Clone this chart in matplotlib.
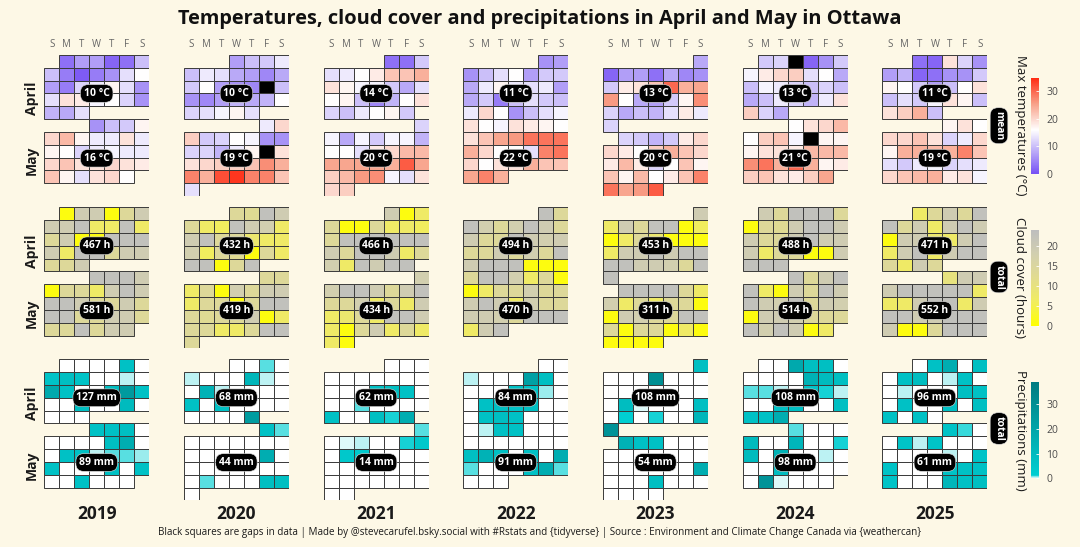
import datetime as dt
import numpy as np
import matplotlib
matplotlib.use("Agg")
import matplotlib.pyplot as plt
from matplotlib.colors import LinearSegmentedColormap, Normalize
from matplotlib.cm import ScalarMappable

plt.rcParams["font.family"] = ["Open Sans", "DejaVu Sans"]

# ---------------------------------------------------------------- data
YEARS = [2019, 2020, 2021, 2022, 2023, 2024, 2025]
DAYS = ["S", "M", "T", "W", "T", "F", "S"]
N = None  # gap in data

TMAX_APRIL = {
    2019: [3, 7, 7, 2, 3, 10, 10, 4, 1, 4, 6, 13, 16, 7, 4, 12, 14, 17, 13, 6, 13, 19, 18, 15, 16, 12, 6, 9, 8, 13],
    2020: [7, 10, 11, 14, 10, 14, 13, 8, 7, 5, 8, 11, 16, 7, 6, 5, N, 10, 6, 5, 7, 9, 8, 9, 16, 12, 13, 15, 17, 13],
    2021: [3, 3, 11, 13, 14, 16, 18, 22, 22, 24, 19, 17, 15, 15, 11, 8, 13, 16, 17, 10, 5, 9, 16, 19, 12, 10, 14, 16, 17, 11],
    2022: [6, 7, 6, 10, 13, 16, 7, 11, 11, 8, 14, 17, 14, 13, 14, 7, 8, 11, 4, 10, 13, 11, 10, 14, 20, 16, 6, 10, 13, 15],
    2023: [8, 2, 7, 7, 3, 8, 5, 6, 11, 18, 19, 22, 30, 24, 25, 26, 16, 8, 7, 11, 17, 27, 12, 8, 10, 9, 13, 18, 14, 12],
    2024: [11, 12, N, 2, 6, 11, 15, 18, 20, 21, 13, 16, 8, 10, 15, 14, 12, 10, 12, 10, 8, 10, 14, 12, 9, 14, 19, 21, 12, 8],
    2025: [3, 2, 19, 12, 6, 7, 9, 2, 3, 6, 6, 11, 17, 16, 11, 7, 10, 16, 19, 10, 13, 11, 15, 19, 17, 10, 19, 21, 24, 10],
}
TMAX_MAY = {
    2019: [6, 10, 11, 17, 20, 23, 17, 14, 14, 19, 14, 17, 16, 12, 14, 15, 14, 14, 20, 22, 19, 19, 20, 19, 18, 22, 17, 13, 19, 20, 16],
    2020: [14, 20, 21, 11, 12, 16, 15, 6, 6, 12, 12, 9, 14, 17, N, 19, 19, 20, 21, 21, 22, 27, 24, 28, 24, 32, 34, 28, 28, 22, 13],
    2021: [12, 15, 8, 15, 11, 15, 15, 9, 16, 16, 13, 18, 20, 23, 23, 25, 25, 25, 25, 24, 31, 25, 21, 23, 26, 27, 15, 13, 19, 20, 21],
    2022: [19, 16, 15, 19, 18, 17, 16, 19, 22, 25, 26, 29, 29, 29, 24, 20, 16, 16, 13, 28, 29, 20, 16, 19, 19, 24, 22, 22, 25, 28, 24],
    2023: [12, 11, 9, 11, 18, 20, 20, 18, 16, 21, 24, 22, 20, 18, 23, 18, 12, 16, 22, 17, 22, 17, 23, 16, 18, 22, 28, 29, 25, 26, 31],
    2024: [16, 19, 20, 23, 16, 21, 22, 15, N, 17, 17, 17, 19, 19, 18, 23, 23, 23, 27, 29, 24, 30, 24, 17, 18, 21, 22, 19, 18, 21, 25],
    2025: [17, 19, 16, 20, 20, 22, 19, 12, 14, 20, 17, 24, 24, 23, 24, 28, 22, 13, 11, 14, 15, 12, 13, 14, 20, 22, 23, 24, 18, 19, 15],
}

CLOUD_APRIL = {
    2019: [1, 19, 19, 1, 14, 19, 19, 19, 23, 7, 7, 23, 7, 14, 19, 1, 1, 23, 23, 23, 19, 7, 23, 23, 14, 19, 19, 14, 14, 19],
    2020: [14, 13, 23, 19, 14, 7, 6, 23, 19, 18, 7, 19, 23, 14, 14, 8, 7, 7, 18, 6, 14, 13, 1, 14, 7, 23, 23, 1, 14, 23],
    2021: [19, 1, 7, 14, 1, 1, 14, 7, 7, 6, 14, 23, 23, 23, 23, 23, 23, 19, 14, 23, 23, 19, 7, 14, 18, 7, 23, 19, 23, 23],
    2022: [23, 14, 23, 18, 14, 18, 23, 19, 14, 19, 14, 14, 23, 19, 18, 19, 14, 14, 19, 14, 18, 14, 23, 19, 23, 23, 23, 1, 1, 1],
    2023: [19, 7, 19, 14, 23, 23, 1, 6, 1, 7, 14, 8, 1, 1, 1, 7, 19, 19, 23, 19, 23, 23, 23, 23, 19, 19, 18, 14, 23, 23],
    2024: [19, 14, 23, 23, 23, 14, 1, 14, 13, 19, 23, 23, 19, 19, 14, 14, 19, 23, 19, 19, 19, 7, 14, 14, 1, 1, 19, 23, 23, 23],
    2025: [7, 14, 19, 14, 23, 23, 14, 19, 7, 19, 23, 19, 1, 19, 19, 8, 7, 19, 23, 7, 19, 23, 7, 19, 23, 23, 14, 7, 19, 14],
}
CLOUD_MAY = {
    2019: [23, 23, 23, 19, 1, 14, 14, 7, 19, 23, 19, 23, 23, 19, 14, 14, 19, 14, 23, 23, 14, 14, 19, 19, 14, 14, 14, 23, 14, 19, 19],
    2020: [14, 14, 7, 14, 1, 18, 14, 19, 19, 7, 14, 14, 1, 14, 23, 23, 14, 13, 14, 14, 19, 1, 7, 14, 14, 7, 7, 14, 23, 23, 14],
    2021: [18, 18, 23, 23, 19, 14, 19, 23, 14, 14, 18, 7, 14, 7, 19, 7, 8, 14, 7, 23, 23, 19, 7, 1, 14, 19, 7, 14, 7, 7, 1],
    2022: [14, 23, 23, 18, 7, 14, 1, 1, 7, 14, 14, 18, 14, 14, 19, 23, 19, 7, 18, 14, 14, 19, 19, 18, 14, 23, 23, 23, 7, 19, 23],
    2023: [23, 23, 23, 23, 14, 7, 18, 7, 14, 7, 14, 14, 1, 1, 19, 18, 14, 14, 23, 23, 14, 1, 14, 14, 1, 7, 1, 1, 1, 1, 1],
    2024: [23, 14, 19, 23, 23, 7, 1, 19, 14, 23, 19, 23, 19, 18, 23, 14, 19, 18, 1, 19, 19, 18, 14, 14, 14, 23, 18, 23, 19, 1, 7],
    2025: [10, 19, 19, 19, 23, 23, 23, 23, 23, 7, 7, 7, 19, 23, 23, 7, 19, 23, 23, 19, 19, 23, 23, 23, 19, 1, 1, 14, 23, 23, 23],
}

PRECIP_APRIL = {
    2019: [0, 0, 0, 0, 7, 0, 6, 8, 6, 0, 0, 0.4, 0, 18, 7, 0, 0, 9, 25, 7, 0, 0, 8, 0, 0, 10, 0, 0, 0, 0],
    2020: [0, 0, 0.8, 0, 0.4, 0, 0, 0, 12, 0.4, 0, 0, 14, 0.4, 0, 0, 0, 0, 7, 0, 7, 0.15, 0, 0, 0, 0, 0, 0, 0, 24],
    2021: [0, 0, 0, 0, 0, 0, 0, 0, 0, 0, 0, 0.15, 0, 7, 8, 7, 0, 0, 0, 0.8, 0.15, 0.15, 0, 0, 7, 0, 0, 8, 1.2, 16],
    2022: [0, 0, 0.4, 0, 0, 0, 22, 8, 0, 0, 0.15, 0, 7, 6, 0.6, 0, 0, 7, 8, 6, 8, 0, 0, 0, 7, 8, 7, 0, 0, 0],
    2023: [8, 0, 0, 0, 30, 0, 0, 0, 0, 0, 0, 0, 0, 0, 0, 0, 9, 0.3, 0, 0, 0, 8, 0.15, 1.5, 0, 1.2, 0, 0, 12, 28],
    2024: [0, 0, 18, 8, 8, 0, 0, 0, 0, 0.15, 14, 10, 8, 0.8, 0.8, 0.4, 0, 6, 1.2, 0.4, 0.15, 0, 7, 7, 0, 0, 8, 7, 7, 16],
    2025: [0, 7, 16, 0, 8, 0, 7, 9, 0, 0.4, 7, 0, 0, 0.4, 0, 0, 0, 8, 7, 0, 7, 0, 0, 7, 0, 8, 7, 0, 7, 0],
}
PRECIP_MAY = {
    2019: [7, 7, 8, 0, 0, 0, 0, 0, 8, 16, 0, 0, 7, 7, 0.4, 0.8, 0.8, 0.5, 7, 0, 0, 0, 7, 0, 7, 0, 0, 7, 0, 0, 0],
    2020: [7, 0.8, 0.15, 0, 0, 0, 0, 0, 0, 0, 0, 0, 0, 0, 16, 0, 0, 0, 0, 0, 0, 0, 0, 0, 0.8, 0, 0, 0.15, 8, 8, 0],
    2021: [0.8, 0, 0.3, 0.4, 0.15, 0, 1.2, 4, 0, 4, 3, 0, 0, 0, 0, 0, 0, 0, 0, 0, 0, 0, 0.15, 0, 0, 0, 0, 0, 0, 0, 0],
    2022: [0, 0.4, 7, 7, 0, 0, 0, 0, 0, 0, 0, 0, 0, 0, 8, 14, 7, 0, 7, 0, 16, 0.8, 0, 0, 0, 7, 16, 0.8, 0, 0, 0],
    2023: [14, 7, 7, 0.15, 0, 0, 0, 0, 0, 0, 0, 0, 0, 0, 0, 0.15, 0, 0, 0, 16, 0, 0, 0, 8, 0, 0, 0, 0, 0, 0, 0],
    2024: [0.8, 0, 0, 0, 10, 0, 0, 12, 0, 0, 1.2, 10, 0.15, 14, 0, 0, 0.4, 0, 0, 0, 9, 0, 0.15, 0, 0.15, 0, 28, 0.3, 0, 0, 0],
    2025: [6, 1, 0, 0, 6, 0.4, 6, 0.15, 0, 0, 0, 0, 0, 0, 0.4, 0, 6, 6, 0, 0, 0.15, 6, 7, 7, 6, 0, 0, 0, 12, 7, 8],
}

TMAX_MEAN_APRIL = [10, 10, 14, 11, 13, 13, 11]
TMAX_MEAN_MAY = [16, 19, 20, 22, 20, 21, 19]
CLOUD_TOTAL_APRIL = [467, 432, 466, 494, 453, 488, 471]
CLOUD_TOTAL_MAY = [581, 419, 434, 470, 311, 514, 552]
PRECIP_TOTAL_APRIL = [127, 68, 62, 84, 108, 108, 96]
PRECIP_TOTAL_MAY = [89, 44, 14, 91, 54, 98, 61]

TITLE = "Temperatures, cloud cover and precipitations in April and May in Ottawa"
CAPTION = ("Black squares are gaps in data | Made by @stevecarufel.bsky.social with #Rstats and "
           "{tidyverse} | Source : Environment and Climate Change Canada via {weathercan}")

# ---------------------------------------------------------------- style
BG = "#FDF8E6"
W, H = 1080, 547
fig = plt.figure(figsize=(W / 100, H / 100), dpi=100, facecolor=BG)


def fx(px):
    return px / W


def fy(py):
    return 1 - py / H


temp_cmap = LinearSegmentedColormap.from_list(
    "t", [(0, "#7650F5"), (8 / 35, "#B9A9F7"), (16 / 35, "#FFFFFF"), (25.5 / 35, "#F8A189"), (1, "#FF2A12")])
cloud_cmap = LinearSegmentedColormap.from_list(
    "c", [(0, "#FFFF00"), (0.25, "#F1ED5E"), (0.5, "#E2DC8E"), (0.75, "#D2CFAF"), (1, "#BEBEBE")])
prec_cmap = LinearSegmentedColormap.from_list(
    "p", [(0, "#FFFFFF"), (0.03, "#00CED1"), (1, "#007B80")])

VARS = [
    (TMAX_APRIL, TMAX_MAY, temp_cmap, Normalize(0, 35), TMAX_MEAN_APRIL, TMAX_MEAN_MAY, "{} °C"),
    (CLOUD_APRIL, CLOUD_MAY, cloud_cmap, Normalize(0, 24), CLOUD_TOTAL_APRIL, CLOUD_TOTAL_MAY, "{} h"),
    (PRECIP_APRIL, PRECIP_MAY, prec_cmap, Normalize(0, 39), PRECIP_TOTAL_APRIL, PRECIP_TOTAL_MAY, "{} mm"),
]

LEFT0, STEP, PW = 44.2, 139.7, 105.0
TOPS = [55.0, 207.3, 359.3]
ROWH = 12.82
PH = 11 * ROWH


def sunday_col(d):
    return (d.weekday() + 1) % 7


def layout(year, napr, nmay):
    off_a = sunday_col(dt.date(year, 4, 1))
    off_m = sunday_col(dt.date(year, 5, 1))
    cols, rows = [], []
    for d in range(napr):
        cols.append((off_a + d) % 7)
        rows.append((off_a + d) // 7)
    nrow_a = (off_a + napr - 1) // 7 + 1
    for d in range(nmay):
        cols.append((off_m + d) % 7)
        rows.append(nrow_a + (off_m + d) // 7)
    return np.array(cols), np.array(rows)


label_box = dict(boxstyle="round,pad=0.32,rounding_size=0.75", fc="black", ec="#DDDDDD", lw=0.4)

for vi, (apr, may, cmap, norm, s_apr, s_may, fmt) in enumerate(VARS):
    for yi, year in enumerate(YEARS):
        left = LEFT0 + STEP * yi
        top = TOPS[vi]
        ax = fig.add_axes([fx(left), fy(top + PH), PW / W, PH / H])
        ax.set_xlim(-0.5, 6.5)
        ax.set_ylim(10.5, -0.5)
        ax.axis("off")
        vals = np.array([np.nan if v is None else v for v in apr[year] + may[year]], dtype=float)
        cols, rows = layout(year, len(apr[year]), len(may[year]))
        colors = [(0, 0, 0, 1) if np.isnan(v) else cmap(norm(v)) for v in vals]
        ax.bar(cols, 1.0, bottom=rows - 0.5, width=1.0, color=colors,
               edgecolor="#3A3A3A", linewidth=0.7, align="center")
        ax.text(3, 2.5, fmt.format(s_apr[yi]), ha="center", va="center", color="white",
                fontsize=7.5, fontweight="bold", bbox=label_box, zorder=5)
        ax.text(3, 7.55, fmt.format(s_may[yi]), ha="center", va="center", color="white",
                fontsize=7.5, fontweight="bold", bbox=label_box, zorder=5)
        if vi == 0:
            for c, dname in enumerate(DAYS):
                ax.text(c, -1.3, dname, ha="center", va="center", fontsize=7,
                        color="#666666", clip_on=False)
        if vi == 2:
            ax.text(3, 11.6, str(year), ha="center", va="center", fontsize=12.5,
                    fontweight="bold", color="#1A1A1A", clip_on=False)
        if yi == 0:
            ax.text(-1.3, 2.9, "April", rotation=90, ha="center", va="center",
                    fontsize=10, fontweight="bold", color="#1A1A1A", clip_on=False)
            ax.text(-1.3, 7.75, "May", rotation=90, ha="center", va="center",
                    fontsize=10, fontweight="bold", color="#1A1A1A", clip_on=False)

# ---------------------------------------------------------------- legends
CB = [
    (temp_cmap, Normalize(0, 35), [0, 10, 20, 30], 77.7, 174.0, "Max temperatures (°C)", 125.0, "mean", 125.7),
    (cloud_cmap, Normalize(0, 24), [0, 5, 10, 15, 20], 230.0, 326.0, "Cloud cover (hours)", 277.5, "total", 277.0),
    (prec_cmap, Normalize(0, 39), [0, 10, 20, 30], 382.3, 478.3, "Precipitations (mm)", 430.8, "total", 428.5),
]
for cmap, norm, ticks, t, b, title, ty, tag, tagy in CB:
    cax = fig.add_axes([fx(1030.7), fy(b), 8.6 / W, (b - t) / H])
    cb = fig.colorbar(ScalarMappable(norm=norm, cmap=cmap), cax=cax, ticks=ticks)
    cb.outline.set_visible(False)
    cax.tick_params(direction="in", length=2, width=0.6, color="white",
                    labelsize=7.5, labelcolor="#4D4D4D", pad=5)
    fig.text(fx(1020), fy(ty), title, rotation=-90, ha="center", va="center",
             fontsize=9.5, color="#1A1A1A")
    fig.text(fx(999), fy(tagy), tag, rotation=-90, ha="center", va="center",
             fontsize=7.5, fontweight="bold", color="white", bbox=label_box)

fig.text(0.5, fy(19), TITLE, ha="center", va="center", fontsize=14.4, fontweight="bold", color="#111111")
fig.text(0.5, fy(533), CAPTION, ha="center", va="center", fontsize=7.1, color="#1A1A1A")

fig.savefig("out.png", dpi=100, facecolor=BG)
